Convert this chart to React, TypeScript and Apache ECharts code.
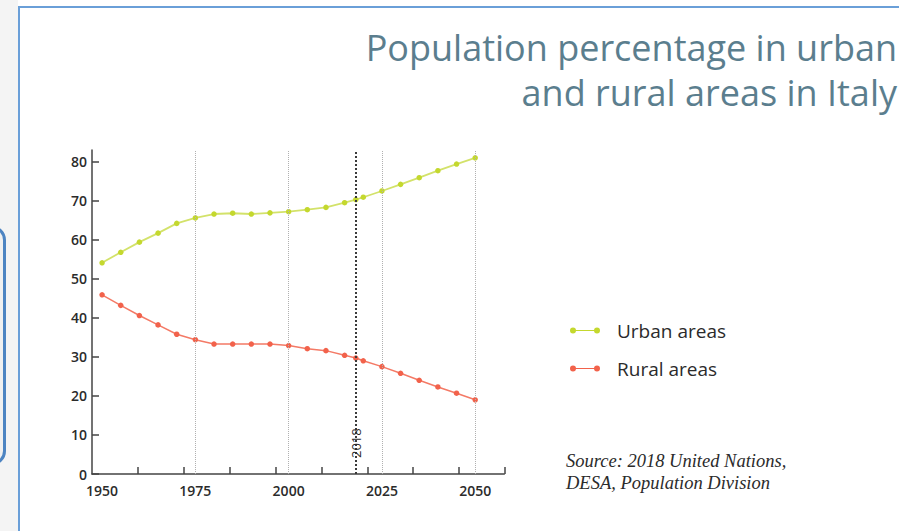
import React, { useEffect, useRef } from "react";
import * as echarts from "echarts";

const years = [1950, 1955, 1960, 1965, 1970, 1975, 1980, 1985, 1990, 1995, 2000, 2005, 2010, 2015, 2018, 2020, 2025, 2030, 2035, 2040, 2045, 2050];
const urban = [54.1, 56.8, 59.4, 61.7, 64.2, 65.6, 66.6, 66.8, 66.6, 66.9, 67.2, 67.7, 68.3, 69.5, 70.3, 70.9, 72.5, 74.2, 75.9, 77.7, 79.4, 81.0];
const rural = [45.9, 43.2, 40.6, 38.2, 35.8, 34.4, 33.3, 33.3, 33.3, 33.3, 32.9, 32.1, 31.6, 30.4, 29.7, 29.0, 27.5, 25.8, 24.0, 22.3, 20.7, 19.0];
const xLabels = [1950, 1975, 2000, 2025, 2050];
const xTicks = [1959.6, 1971.9, 1984.2, 1996.5, 2008.8, 2021.1, 2033.3, 2045.6, 2057.8];
const yTicks = [0, 10, 20, 30, 40, 50, 60, 70, 80];
const gridYears = [1975, 2000, 2025, 2050];
const highlightYear = 2018;
const seriesNames = ["Urban areas", "Rural areas"];
const titleLines = ["Population percentage in urban", "and rural areas in Italy"];
const sourceText = "Source: 2018 United Nations,\nDESA, Population Division";

const ICON =
  "path://M3,0A3,3,0,1,1,3,6A3,3,0,1,1,3,0ZM27,0A3,3,0,1,1,27,6A3,3,0,1,1,27,0ZM3,2.4L27,2.4L27,3.6L3,3.6Z";

export default function App() {
  const ref = useRef<HTMLDivElement>(null);
  useEffect(() => {
    if (!ref.current) return;
    const chart = echarts.init(ref.current, null, { renderer: "svg" });
    const labelFont = { fontFamily: "Open Sans", fontWeight: 600, fontSize: 14, color: "#2b2b2b" };
    chart.setOption({
      animation: false,
      backgroundColor: "#ffffff",
      legend: {
        orient: "vertical",
        left: 565,
        top: 316,
        itemWidth: 30,
        itemHeight: 6,
        itemGap: 19,
        icon: ICON,
        data: seriesNames,
        textStyle: {
          fontFamily: "Open Sans",
          fontSize: 19,
          color: "#2b2b2b",
          padding: [0, 0, 0, 12],
        },
        selectedMode: false,
      },
      graphic: [
        { type: "rect", shape: { x: 0, y: 0, width: 18, height: 531 }, style: { fill: "#f4f4f4" }, z: -10 },
        {
          type: "rect",
          shape: { x: -40, y: 227, width: 44.5, height: 237, r: 13 },
          style: { fill: "#f0f0f0", stroke: "#4d84c2", lineWidth: 3 },
          z: -9,
        },
        {
          type: "polyline",
          shape: { points: [[19, 531], [19, 7], [899, 7]] },
          style: { stroke: "#6a9fd8", lineWidth: 2, fill: null },
          z: -8,
        },
        ...titleLines.map((t, i) => ({
          type: "text",
          right: 2,
          top: 26 + i * 45,
          style: {
            text: t,
            font: "36px 'Open Sans'",
            lineHeight: 42,
            fill: "#5b7e8e",
          },
        })),
        {
          type: "text",
          left: 566,
          top: 450,
          style: {
            text: sourceText,
            font: "italic 18.5px 'Liberation Serif'",
            lineHeight: 22,
            fill: "#2b2b2b",
          },
        },
      ],
      grid: { left: 92, right: 394.7, top: 150, bottom: 57, outerBoundsMode: "none" },
      xAxis: {
        type: "value",
        min: 1947.3,
        max: 2057.8,
        axisLine: { lineStyle: { color: "#444", width: 1.5 } },
        axisTick: { inside: true, length: 7, customValues: xTicks, lineStyle: { color: "#444", width: 1.5 } },
        axisLabel: { ...labelFont, margin: 9, customValues: xLabels, formatter: (v: number) => String(v) },
        splitLine: { show: false },
      },
      yAxis: {
        type: "value",
        min: 0,
        max: 83,
        axisLine: { show: true, lineStyle: { color: "#444", width: 1.5 } },
        axisTick: { show: true, inside: true, length: 7, customValues: yTicks, lineStyle: { color: "#444", width: 1.5 } },
        axisLabel: { ...labelFont, margin: 5, customValues: yTicks },
        splitLine: { show: false },
      },
      series: [
        {
          name: seriesNames[0],
          type: "line",
          data: years.map((y, i) => [y, urban[i]]),
          symbol: "circle",
          symbolSize: 5.5,
          itemStyle: { color: "#c4d82e" },
          lineStyle: { color: "#d3e26a", width: 1.8 },
          z: 3,
          markLine: {
            silent: true,
            symbol: "none",
            animation: false,
            label: { show: false },
            lineStyle: { color: "#b0b0b0", type: "dotted", width: 1 },
            data: [
              ...gridYears.map((y) => ({ xAxis: y })),
              {
                xAxis: highlightYear,
                lineStyle: { color: "#3a3a3a", type: "dotted", width: 2 },
                label: {
                  show: true,
                  position: "insideStart",
                  distance: [16, 0],
                  formatter: String(highlightYear),
                  fontFamily: "Open Sans",
                  fontSize: 13,
                  color: "#2b2b2b",
                },
              },
            ],
          },
        },
        {
          name: seriesNames[1],
          type: "line",
          data: years.map((y, i) => [y, rural[i]]),
          symbol: "circle",
          symbolSize: 5.5,
          itemStyle: { color: "#f2624b" },
          lineStyle: { color: "#f47a66", width: 1.5 },
          z: 3,
        },
      ],
    });
    return () => chart.dispose();
  }, []);
  return (
    <div
      ref={ref}
      style={{ position: "absolute", left: 0, top: 0, width: 899, height: 531 }}
    />
  );
}
